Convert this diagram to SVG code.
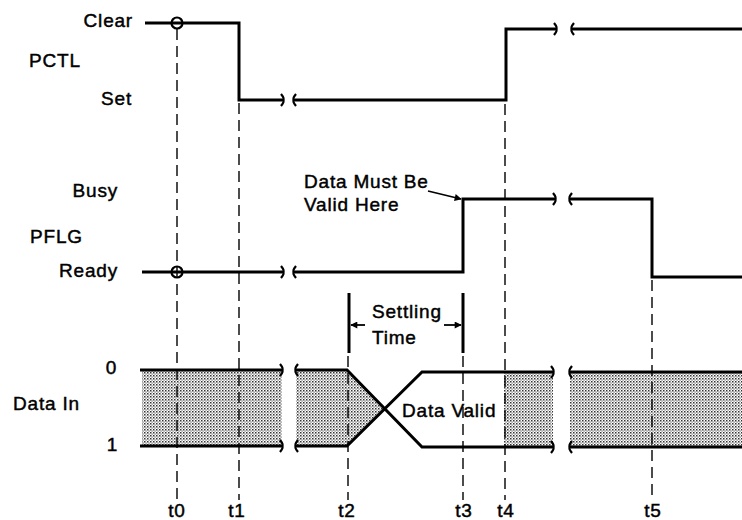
<svg xmlns="http://www.w3.org/2000/svg" width="742" height="520" viewBox="0 0 742 520">
<defs>
<pattern id="stip" width="3" height="3" patternUnits="userSpaceOnUse">
<rect width="3" height="3" fill="#ffffff"/>
<rect x="0" y="0" width="1.5" height="1.5" fill="#333"/>
<rect x="1.5" y="1.5" width="1.2" height="1.2" fill="#666"/>
</pattern>
<marker id="ah" viewBox="0 0 10 10" refX="9" refY="5" markerWidth="10" markerHeight="7" markerUnits="userSpaceOnUse" orient="auto">
<path d="M0,0 L10,5 L0,10 z" fill="#000"/>
</marker>
<path id="brkL" d="M-2,-6 Q2,-1 0,0 Q2,1 -2,6" fill="none" stroke="#000" stroke-width="2.2"/>
<path id="brkR" d="M2,-6 Q-2,-1 0,0 Q-2,1 2,6" fill="none" stroke="#000" stroke-width="2.2"/>
</defs>
<style>
text{font-family:"Liberation Sans",Arial,Helvetica,sans-serif;font-size:19px;letter-spacing:0.8px;fill:#000;stroke:#000;stroke-width:0.45}
.sig{fill:none;stroke:#000;stroke-width:3;stroke-linejoin:miter}
.dash{fill:none;stroke:#000;stroke-width:1.4;stroke-dasharray:11 6}
.bar{fill:none;stroke:#000;stroke-width:3}
.thin{fill:none;stroke:#000;stroke-width:1.8}
.shade{fill:url(#stip);stroke:none}
</style>
<rect width="742" height="520" fill="#fff"/>

<g id="labels">
<text x="133" y="27" text-anchor="end">Clear</text>
<text x="29" y="67">PCTL</text>
<text x="132" y="105" text-anchor="end">Set</text>
<text x="118" y="197" text-anchor="end">Busy</text>
<text x="30" y="243">PFLG</text>
<text x="118" y="277" text-anchor="end">Ready</text>
<text x="117" y="374" text-anchor="end">0</text>
<text x="13" y="410">Data In</text>
<text x="118" y="451" text-anchor="end">1</text>
</g>

<g id="data-in">
<rect class="shade" x="142" y="370" width="140" height="76"/>
<polygon class="shade" points="296,370 347,370 384.5,408 347,446 296,446"/>
<rect class="shade" x="504" y="372" width="49" height="75"/>
<rect class="shade" x="570" y="372" width="172" height="75"/>
<path class="sig" d="M140,370 H282 M140,446 H282"/>
<use href="#brkL" x="282" y="370"/><use href="#brkL" x="282" y="446"/>
<path class="sig" d="M296,370 H347 L422,447 H553 M296,446 H347 L422,372 H553"/>
<use href="#brkR" x="296" y="370"/><use href="#brkR" x="296" y="446"/>
<use href="#brkL" x="553" y="372"/><use href="#brkL" x="553" y="447"/>
<path class="sig" d="M570,372 H742 M570,447 H742"/>
<use href="#brkR" x="570" y="372"/><use href="#brkR" x="570" y="447"/>
<text x="402" y="417">Data Valid</text>
</g>

<g id="connectors">
<path class="dash" d="M177,29 V500"/>
<path class="dash" d="M239,103 V500"/>
<path class="dash" d="M348,356 V500"/>
<path class="dash" d="M463,356 V500"/>
<path class="dash" d="M505,104 V500"/>
<path class="dash" d="M652,280 V500"/>
</g>

<g id="pctl">
<path class="sig" d="M145,23 H239 V100 H283"/>
<use href="#brkL" x="283" y="100"/>
<path class="sig" d="M294,100 H506 V29 H556"/>
<use href="#brkR" x="294" y="100"/>
<use href="#brkL" x="556" y="29"/>
<path class="sig" d="M572,29 H742"/>
<use href="#brkR" x="572" y="29"/>
<circle cx="177" cy="23" r="5.5" fill="none" stroke="#000" stroke-width="2.2"/>
</g>

<g id="pflg">
<path class="sig" d="M142,272 H283"/>
<use href="#brkL" x="283" y="272"/>
<path class="sig" d="M294,272 H463 V199 H555"/>
<use href="#brkR" x="294" y="272"/>
<use href="#brkL" x="555" y="199"/>
<path class="sig" d="M570,199 H652 V277 H742"/>
<use href="#brkR" x="570" y="199"/>
<circle cx="177" cy="272" r="5.5" fill="none" stroke="#000" stroke-width="2.2"/>
</g>

<g id="note">
<text x="304" y="188">Data Must Be</text>
<text x="304" y="211">Valid Here</text>
<path class="thin" d="M428,191 L461,199" marker-end="url(#ah)"/>
</g>

<g id="settling">
<path class="bar" d="M349,293 V353 M463,293 V353"/>
<path class="thin" d="M365,325 H351" marker-end="url(#ah)"/>
<path class="thin" d="M444,325 H461" marker-end="url(#ah)"/>
<text x="372" y="318">Settling</text>
<text x="372" y="344">Time</text>
</g>

<g id="times">
<text x="177" y="517" text-anchor="middle">t0</text>
<text x="237" y="517" text-anchor="middle">t1</text>
<text x="347" y="517" text-anchor="middle">t2</text>
<text x="464" y="517" text-anchor="middle">t3</text>
<text x="506" y="517" text-anchor="middle">t4</text>
<text x="653" y="517" text-anchor="middle">t5</text>
</g>
</svg>
